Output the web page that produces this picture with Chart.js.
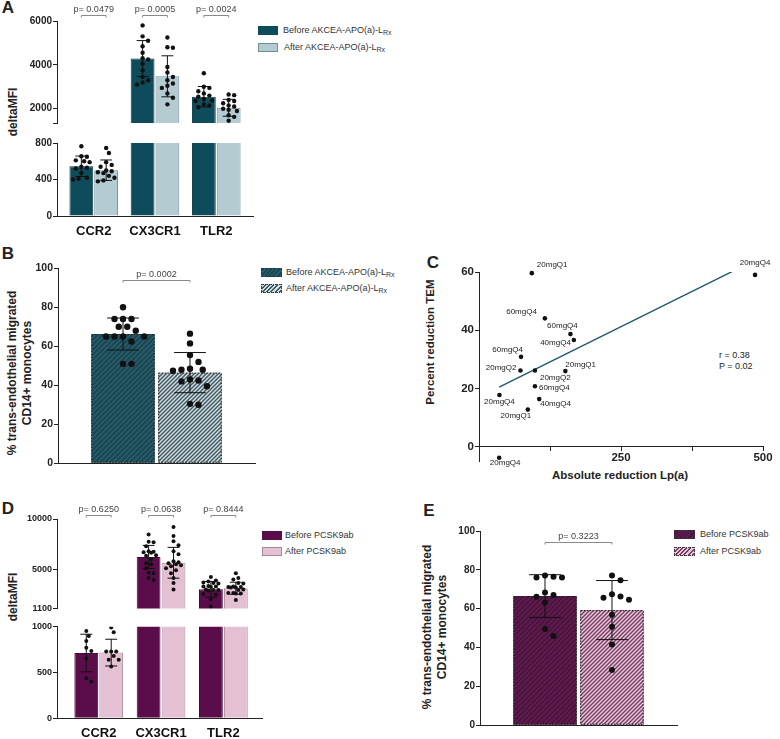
<!DOCTYPE html>
<html>
<head>
<meta charset="utf-8">
<script src="https://cdn.jsdelivr.net/npm/chart.js@4.4.1/dist/chart.umd.min.js"></script>
<style>
  body { margin: 0; background: #fff; }
  #fig { position: relative; width: 780px; height: 739px; overflow: hidden; color: #222;
         font-family: 'Liberation Sans', Arial, sans-serif; }
  #fig canvas { position: absolute; }
  .t { position: absolute; white-space: nowrap; transform: translate(-50%, -50%); }
  .v { transform: translate(-50%, -50%) rotate(-90deg); text-align: center; line-height: 15px; }
  .letter { font-weight: bold; font-size: 17px; }
  .ttl { font-weight: bold; font-size: 12px; }
  .leg { position: absolute; font-size: 9px; color: #333; white-space: nowrap; transform: translateY(-50%); }
  .leg sub { font-size: 7px; vertical-align: -2px; line-height: 0; }
  .sw { position: absolute; width: 20px; height: 9px; box-sizing: border-box; }
  .stat { position: absolute; font-size: 9px; transform: translateY(-50%); }
</style>
</head>
<body>
<div id="fig">
  <div class="t letter" style="left:8px;top:8px">A</div>
  <div class="t letter" style="left:8px;top:254px">B</div>
  <div class="t letter" style="left:433px;top:263px">C</div>
  <div class="t letter" style="left:8px;top:509px">D</div>
  <div class="t letter" style="left:429px;top:511px">E</div>

  <div class="t v ttl" style="left:13px;top:112px">deltaMFI</div>
  <div class="t v ttl" style="left:19.5px;top:373px">% trans-endothelial migrated<br>CD14+ monocytes</div>
  <div class="t v ttl" style="left:13px;top:597px">deltaMFI</div>
  <div class="t v ttl" style="left:435px;top:627px">% trans-endothelial migrated<br>CD14+ monocytes</div>
  <div class="t v ttl" style="left:430px;top:342px;font-size:11.5px">Percent reduction TEM</div>
  <div class="t ttl" style="left:620px;top:475px;font-size:11.5px">Absolute reduction Lp(a)</div>
  <div class="stat" style="left:719px;top:355px">r = 0.38</div>
  <div class="stat" style="left:719px;top:366px">P = 0.02</div>

  <div class="sw" style="left:258px;top:25.5px;background:#0e4c5c"></div>
  <div class="leg" style="left:283px;top:30px">Before AKCEA-APO(a)-L<sub>Rx</sub></div>
  <div class="sw" style="left:258px;top:42.5px;background:#b5cbd2;border:1px solid #6f8d96"></div>
  <div class="leg" style="left:284px;top:47px">After AKCEA-APO(a)-L<sub>Rx</sub></div>

  <div class="sw" style="left:261px;top:267.5px;width:21px;border:1px dotted #333;background:repeating-linear-gradient(135deg,#1c4854 0 2px,#2d6472 2px 3px)"></div>
  <div class="leg" style="left:286px;top:272px">Before AKCEA-APO(a)-L<sub>Rx</sub></div>
  <div class="sw" style="left:261px;top:283.5px;width:21px;border:1px dotted #333;background:repeating-linear-gradient(135deg,#d5dcde 0 1.6px,#3d5962 1.6px 3px)"></div>
  <div class="leg" style="left:286px;top:288px">After AKCEA-APO(a)-L<sub>Rx</sub></div>

  <div class="sw" style="left:262px;top:530.5px;background:#5b0c4b"></div>
  <div class="leg" style="left:285px;top:535px">Before PCSK9ab</div>
  <div class="sw" style="left:262px;top:546.5px;background:#e3c1d2;border:1px solid #a88898"></div>
  <div class="leg" style="left:285px;top:551px">After PCSK9ab</div>

  <div class="sw" style="left:674px;top:529.5px;width:21px;border:1px dotted #333;background:repeating-linear-gradient(135deg,#5b1b4c 0 2px,#46103a 2px 3px)"></div>
  <div class="leg" style="left:700px;top:534px">Before PCSK9ab</div>
  <div class="sw" style="left:674px;top:546.5px;width:21px;border:1px dotted #333;background:repeating-linear-gradient(135deg,#e6cad8 0 1.6px,#7a3b66 1.6px 3px)"></div>
  <div class="leg" style="left:700px;top:551px">After PCSK9ab</div>
</div>

<script>
// ---------- data ----------
const receptors = ['CCR2', 'CX3CR1', 'TLR2'];

// A: monocyte receptor deltaMFI, before / after AKCEA-APO(a)-LRx
const aBeforeMean = [545, 4287, 2548];
const aAfterMean = [502, 3478, 2043];
const aBeforeSD = [112, 820, 465];
const aAfterSD = [112, 935, 385];
const aBeforeDots = [
  [765, 655, 650, 610, 600, 590, 540, 530, 520, 470, 420, 410, 400],
  [5800, 5300, 5100, 4850, 4550, 4300, 4250, 4050, 3750, 3450, 3300, 3200, 3100],
  [3620, 3000, 2950, 2800, 2700, 2600, 2550, 2450, 2380, 2350, 2200, 2150, 2070]
];
const aAfterDots = [
  [745, 690, 590, 560, 540, 500, 490, 480, 470, 440, 420, 390, 380],
  [5250, 4800, 4780, 3900, 3650, 3450, 3300, 3150, 3050, 2950, 2700, 2500, 2200],
  [2650, 2620, 2400, 2350, 2250, 2150, 2100, 2000, 1950, 1900, 1700, 1630, 1450]
];
const aPvals = ['p= 0.0479', 'p= 0.0005', 'p= 0.0024'];

// B: % trans-endothelial migration, AKCEA-APO(a)-LRx
const bMean = [66.3, 46.5];
const bSD = [8.2, 10.3];
const bBeforeDots = [80, 74, 74, 74, 70, 70, 68, 65, 65, 65, 65, 62.5, 51, 51];
const bAfterDots = [66.5, 61.5, 55.5, 52, 48.5, 48, 48, 47.5, 43, 42.5, 42, 39.5, 30.5, 30];
const bPval = 'p= 0.0002';

// C: absolute Lp(a) reduction vs percent TEM reduction
const cLpaReduction = [93, 486, 116, 161, 167, 74, 73, 98.5, 152, 98.5, 36, 106, 86, 35.5];
const cTemReduction = [59.6, 59, 44.1, 38.7, 36.7, 30.9, 26.2, 26.2, 26, 20.8, 17.8, 16.4, 12.8, -3.7];
const cDoseGroup = ['20mgQ1', '20mgQ4', '60mgQ4', '60mgQ4', '40mgQ4', '60mgQ4', '20mgQ2',
                    '20mgQ2', '20mgQ1', '60mgQ4', '20mgQ4', '40mgQ4', '20mgQ1', '20mgQ4'];
const cXTicks = [0, 125, 250, 375, 500];
const cXLabels = [250, 500];
const cYTicks = [0, 20, 40, 60];

// D: monocyte receptor deltaMFI, before / after PCSK9ab
const dBeforeMean = [713, 6226, 3020];
const dAfterMean = [717, 5650, 3116];
const dBeforeSD = [205, 1150, 780];
const dAfterSD = [146, 1530, 600];
const dBeforeDots = [
  [953, 899, 844, 771, 735, 655, 437, 400],
  [8450, 7750, 7700, 7300, 6800, 6750, 6700, 6650, 6400, 6350, 6000, 5600, 5500, 5100, 4650, 4600, 4150, 3950],
  [4250, 3900, 3800, 3700, 3650, 3600, 3350, 3300, 3300, 3250, 3000, 2950, 2950, 2900, 2550, 2500, 2050, 1300]
];
const dAfterDots = [
  [990, 940, 730, 730, 730, 680, 640, 640, 565],
  [9200, 8300, 7800, 7400, 6800, 6500, 5800, 5700, 5600, 5500, 5400, 5300, 5100, 4900, 4600, 4150, 3650, 3000],
  [4600, 4150, 4000, 3650, 3600, 3300, 3250, 3250, 3200, 3200, 3000, 2950, 2650, 2650, 2600, 2600, 1950]
];
const dPvals = ['p= 0.6250', 'p= 0.0638', 'p= 0.8444'];

// E: % trans-endothelial migration, PCSK9ab
const eMean = [66.5, 59.3];
const eSD = [11, 15.2];
const eBeforeDots = [77.1, 76.5, 76.1, 76.1, 68.4, 67, 66.1, 63.2, 49.5, 45.9];
const eAfterDots = [77.1, 74.7, 67.4, 66.3, 65.6, 64.6, 56.9, 50.7, 41.6, 28.4];
const ePval = 'p= 0.3223';

// ---------- helpers ----------
const FONT = "'Liberation Sans', Arial, sans-serif";
Chart.defaults.font.family = FONT;
Chart.defaults.color = '#222';

function canvasAt(left, top, w, h) {
  const c = document.createElement('canvas');
  c.width = w; c.height = h;
  c.style.left = left + 'px'; c.style.top = top + 'px';
  c.style.width = w + 'px'; c.style.height = h + 'px';
  document.getElementById('fig').appendChild(c);
  return c;
}

function hatch(bg, fg, size, lw) {
  const c = document.createElement('canvas');
  c.width = c.height = size;
  const g = c.getContext('2d');
  g.fillStyle = bg; g.fillRect(0, 0, size, size);
  g.strokeStyle = fg; g.lineWidth = lw;
  g.beginPath();
  g.moveTo(-1, size + 1); g.lineTo(size + 1, -1);
  g.moveTo(-size / 2 - 1, size / 2 + 1); g.lineTo(size / 2 + 1, -size / 2 - 1);
  g.moveTo(size / 2 - 1, size * 1.5 + 1); g.lineTo(size * 1.5 + 1, size / 2 - 1);
  g.stroke();
  return g.createPattern(c, 'repeat');
}

// beeswarm: spread near-equal values sideways (kept inside the bar) so dots don't overlap
function swarm(vals, cx, xPx, yPx, minD, maxPx) {
  const placed = [];
  const order = vals.map((_, i) => i).sort((p, q) => vals[q] - vals[p]);
  const step = minD / 2;
  for (const i of order) {
    const py = vals[i] * yPx;
    let best = 0, bestGap = -1;
    for (let n = 0; n < 60; n++) {
      const px = Math.ceil(n / 2) * (n % 2 ? 1 : -1) * step;
      if (Math.abs(px) > maxPx) continue;
      const gap = placed.reduce((g, p) => Math.min(g, Math.hypot(p.px - px, p.py - py)), Infinity);
      if (gap >= minD) { best = px; bestGap = gap; break; }
      if (gap > bestGap) { best = px; bestGap = gap; }
    }
    placed.push({ px: best, py, x: cx + best / xPx, y: vals[i] });
  }
  return placed.map(p => ({ x: p.x, y: p.y }));
}

function groupDots(dots, side, catPct, xPx, yPxs, minD, maxPx) {
  return dots.flatMap((vals, j) => swarm(vals, j + side * catPct / 4, xPx, yPxs[j], minD, maxPx));
}

function linFit(xs, ys) {
  const n = xs.length;
  const mx = xs.reduce((s, v) => s + v, 0) / n, my = ys.reduce((s, v) => s + v, 0) / n;
  let sxy = 0, sxx = 0;
  xs.forEach((x, i) => { sxy += (x - mx) * (ys[i] - my); sxx += (x - mx) ** 2; });
  const b = sxy / sxx;
  return { a: my - b * mx, b };
}

function yAxis(min, max, ticks, labels, width, size) {
  return {
    type: 'linear', min, max,
    afterBuildTicks: s => { s.ticks = ticks.map(v => ({ value: v })); },
    afterFit: s => { s.width = width; },
    ticks: { autoSkip: false, padding: 1, font: { size, weight: 'bold' }, color: '#222',
             callback: v => labels.includes(v) ? String(v) : '' },
    grid: { drawOnChartArea: false, tickLength: 4, color: '#222' },
    border: { color: '#222' }
  };
}

function xAxis(min, max, ticks, extra) {
  return Object.assign({
    type: 'linear', min, max, offset: false,
    afterBuildTicks: s => { s.ticks = ticks.map(v => ({ value: v })); },
    grid: { display: false, drawTicks: false },
    border: { color: '#222' },
    ticks: { display: false }
  }, extra);
}

function barSet(label, means, sds, bg, edge, extra) {
  return Object.assign({
    type: 'bar', label, order: 2, clip: 0,
    data: means.map((m, j) => ({ x: j, y: m })),
    sd: sds, backgroundColor: bg, borderColor: edge, borderWidth: 1
  }, extra);
}

function dotSet(points, r) {
  return { type: 'scatter', order: 1, clip: 0, data: points, pointRadius: r,
           pointBackgroundColor: '#111', pointBorderWidth: 0, pointHoverRadius: r };
}

// error bars, dotted bar outlines and p-value brackets
const decor = {
  id: 'decor',
  afterDatasetDraw(chart, args) {
    const ds = chart.data.datasets[args.index];
    if (!ds.sd && !ds.dotted) return;
    const ctx = chart.ctx, ys = chart.scales.y, a = chart.chartArea;
    ctx.save();
    ctx.beginPath(); ctx.rect(a.left, a.top, a.right - a.left, a.bottom - a.top); ctx.clip();
    args.meta.data.forEach((bar, j) => {
      const half = bar.width / 2;
      if (ds.dotted) {
        ctx.setLineDash([1.5, 1.5]); ctx.strokeStyle = '#222'; ctx.lineWidth = 1;
        ctx.strokeRect(bar.x - half + 0.5, bar.y + 0.5, bar.width - 1, bar.base - bar.y - 1);
        ctx.setLineDash([]);
      }
      if (ds.sd) {
        const m = ds.data[j].y, s = ds.sd[j];
        const t = ys.getPixelForValue(m + s), b = ys.getPixelForValue(m - s);
        ctx.strokeStyle = '#111'; ctx.lineWidth = 1;
        ctx.beginPath();
        ctx.moveTo(bar.x, t); ctx.lineTo(bar.x, b);
        ctx.moveTo(bar.x - half / 2, t); ctx.lineTo(bar.x + half / 2, t);
        ctx.moveTo(bar.x - half / 2, b); ctx.lineTo(bar.x + half / 2, b);
        ctx.stroke();
      }
    });
    ctx.restore();
  },
  afterDraw(chart, args, opts) {
    const ctx = chart.ctx, ys = chart.scales.y;
    (opts.pvals || []).forEach(p => {
      const x0 = chart.getDatasetMeta(0).data[p.j].x, x1 = chart.getDatasetMeta(1).data[p.j].x;
      const py = Math.round(ys.getPixelForValue(p.y)) + 0.5;
      ctx.save();
      ctx.strokeStyle = '#8a8a8a'; ctx.lineWidth = 1;
      ctx.beginPath();
      ctx.moveTo(x0, py + 2); ctx.lineTo(x0, py); ctx.lineTo(x1, py); ctx.lineTo(x1, py + 2);
      ctx.stroke();
      ctx.fillStyle = '#444'; ctx.font = '9px ' + FONT;
      ctx.textAlign = 'center'; ctx.textBaseline = 'bottom';
      ctx.fillText(p.text, (x0 + x1) / 2, py - 1.5);
      ctx.restore();
    });
  }
};

const quiet = { legend: { display: false }, tooltip: { enabled: false } };

// bar panel with a broken y axis: two stacked charts sharing the x range
function brokenPanel(o) {
  const sets = (lo, hi) => [
    barSet('Before', o.beforeMean, o.beforeSD, o.fill[0], o.edge[0], o.bar),
    barSet('After', o.afterMean, o.afterSD, o.fill[1], o.edge[1], o.bar),
    dotSet(o.beforePts.filter(p => p.y >= lo && p.y <= hi), o.r),
    dotSet(o.afterPts.filter(p => p.y >= lo && p.y <= hi), o.r)
  ];
  new Chart(canvasAt(0, o.t.y, o.w, o.t.h), {
    type: 'bar',
    data: { datasets: sets(o.t.min, Infinity) },
    options: {
      responsive: false, animation: false, events: [],
      layout: { padding: { top: o.t.padTop, right: o.padRight, bottom: o.t.padBottom, left: 0 } },
      scales: {
        x: xAxis(o.xMin, o.xMax, [0, 1, 2], { display: false }),
        y: yAxis(o.t.min, o.t.max, o.t.ticks, o.t.labels, 57, o.tickSize)
      },
      plugins: Object.assign({ decor: { pvals: o.pvals } }, quiet)
    },
    plugins: [decor]
  });
  new Chart(canvasAt(0, o.b.y, o.w, o.b.h), {
    type: 'bar',
    data: { datasets: sets(-Infinity, o.b.max) },
    options: {
      responsive: false, animation: false, events: [],
      layout: { padding: { top: o.b.padTop, right: o.padRight, bottom: 0, left: 0 } },
      scales: {
        x: xAxis(o.xMin, o.xMax, [0, 1, 2], {
          afterFit: s => { s.height = o.b.xHeight; },
          ticks: { display: true, autoSkip: false, maxRotation: 0, padding: o.b.labelPad,
                   font: { size: 13, weight: 'bold' }, color: '#111', callback: v => receptors[v] }
        }),
        y: yAxis(o.b.min, o.b.max, o.b.ticks, o.b.ticks, 57, o.tickSize)
      },
      plugins: Object.assign({ decor: {} }, quiet)
    },
    plugins: [decor]
  });
}

// two hatched bars with dots
function pairPanel(o) {
  const off = o.catPct / 2;
  new Chart(canvasAt(o.left, o.top, o.w, o.h), {
    type: 'bar',
    data: { datasets: [
      barSet('Before', [o.mean[0]], [o.sd[0]], o.fill[0], 'transparent',
             { borderWidth: 0, dotted: true, categoryPercentage: o.catPct, barPercentage: 0.948 }),
      barSet('After', [o.mean[1]], [o.sd[1]], o.fill[1], 'transparent',
             { borderWidth: 0, dotted: true, categoryPercentage: o.catPct, barPercentage: 0.948 }),
      dotSet(swarm(o.before, -off, o.xPx, o.yPx, o.minD, 26), o.r),
      dotSet(swarm(o.after, off, o.xPx, o.yPx, o.minD, 26), o.r)
    ] },
    options: {
      responsive: false, animation: false, events: [],
      layout: { padding: { top: o.padTop, right: o.padRight, bottom: 0, left: 0 } },
      scales: {
        x: xAxis(-1, 1, [0], { afterFit: s => { s.height = o.xHeight; } }),
        y: yAxis(0, 100, [0, 20, 40, 60, 80, 100], [0, 20, 40, 60, 80, 100], o.yWidth, o.tickSize)
      },
      plugins: Object.assign({ decor: { pvals: [{ j: 0, text: o.pval, y: o.pvalY }] } }, quiet)
    },
    plugins: [decor]
  });
}

// ---------- A ----------
const aCat = 0.81;
brokenPanel({
  w: 262, padRight: 9, xMin: -0.6, xMax: 2.6, tickSize: 10, r: 2.2,
  beforeMean: aBeforeMean, afterMean: aAfterMean, beforeSD: aBeforeSD, afterSD: aAfterSD,
  fill: ['#0e4c5c', '#b5cbd2'], edge: ['#0a3a46', '#6f8d96'],
  bar: { categoryPercentage: aCat, barPercentage: 0.96 },
  beforePts: groupDots(aBeforeDots, -1, aCat, 61, [0.0912, 0.023, 0.023], 5.5, 9.5),
  afterPts: groupDots(aAfterDots, 1, aCat, 61, [0.0912, 0.023, 0.023], 5.5, 9.5),
  pvals: aPvals.map((text, j) => ({ j, text, y: 6280 })),
  t: { y: 0, h: 130, padTop: 21, padBottom: 2, min: 1350, max: 6000,
       ticks: [1350, 2000, 4000, 6000], labels: [2000, 4000, 6000] },
  b: { y: 130, h: 110, padTop: 13, xHeight: 24, labelPad: 8, min: 0, max: 800, ticks: [0, 400, 800] }
});

// ---------- B ----------
pairPanel({
  left: 0, top: 240, w: 262, h: 240, padTop: 28.3, padRight: 7, xHeight: 16.7, yWidth: 58,
  tickSize: 10.5, catPct: 0.68, xPx: 98.5, yPx: 1.95, minD: 8.5, r: 3.2,
  mean: bMean, sd: bSD, before: bBeforeDots, after: bAfterDots, pval: bPval, pvalY: 94,
  fill: [hatch('#1c4854', '#2d6472', 5, 1.2), hatch('#d5dcde', '#3d5962', 4, 1.4)]
});

// ---------- C ----------
const fit = linFit(cLpaReduction, cTemReduction);
const fitX = [Math.min(...cLpaReduction), Math.max(...cLpaReduction)];
// label offset from its point: [dx, dy, align]
const cLabelPlace = [[5, -8, 'left'], [0, -12, 'center'], [-8, -7, 'right'], [-8, -8, 'center'],
  [-3, 3, 'right'], [2, -7, 'right'], [-4, -3, 'right'], [5, 7, 'left'], [0, -6, 'left'],
  [4, 2, 'left'], [0, 7, 'center'], [1, 5, 'left'], [-12, 6, 'center'], [6, 5, 'center']];
const pointLabels = {
  id: 'pointLabels',
  afterDatasetsDraw(chart) {
    const ctx = chart.ctx;
    ctx.save();
    ctx.font = '8px ' + FONT; ctx.fillStyle = '#222'; ctx.textBaseline = 'middle';
    chart.getDatasetMeta(0).data.forEach((pt, i) => {
      const [dx, dy, align] = cLabelPlace[i];
      ctx.textAlign = align;
      ctx.fillText(cDoseGroup[i], pt.x + dx, pt.y + dy);
    });
    ctx.restore();
  }
};
new Chart(canvasAt(400, 240, 380, 245), {
  type: 'scatter',
  data: { datasets: [
    { type: 'scatter', data: cLpaReduction.map((x, i) => ({ x, y: cTemReduction[i] })),
      pointRadius: 2.3, pointBackgroundColor: '#111', pointBorderWidth: 0, clip: 6 },
    { type: 'line', data: fitX.map(x => ({ x, y: fit.a + fit.b * x })),
      borderColor: '#1f5a66', borderWidth: 1.4, pointRadius: 0, clip: 0 }
  ] },
  options: {
    responsive: false, animation: false, events: [],
    layout: { padding: { top: 32, right: 17, bottom: 23.5, left: 0 } },
    scales: {
      x: {
        type: 'linear', min: 0, max: 500, position: { y: 0 },
        afterBuildTicks: s => { s.ticks = cXTicks.map(v => ({ value: v })); },
        ticks: { autoSkip: false, maxRotation: 0, padding: 0, font: { size: 11.5, weight: 'bold' },
                 color: '#222', callback: v => cXLabels.includes(v) ? String(v) : '' },
        grid: { drawOnChartArea: false, tickLength: 4, color: '#222' },
        border: { color: '#222' }
      },
      y: yAxis(-5, 60, cYTicks, cYTicks, 79, 11.5)
    },
    plugins: quiet
  },
  plugins: [pointLabels]
});

// ---------- D ----------
const dCat = 0.8;
brokenPanel({
  w: 265, padRight: 3, xMin: -0.67, xMax: 2.62, tickSize: 9, r: 2,
  beforeMean: dBeforeMean, afterMean: dAfterMean, beforeSD: dBeforeSD, afterSD: dAfterSD,
  fill: ['#5b0c4b', '#e3c1d2'], edge: ['#4a063c', '#a88898'],
  bar: { categoryPercentage: dCat, barPercentage: 0.955 },
  beforePts: groupDots(dBeforeDots, -1, dCat, 62.3, [0.0916, 0.01042, 0.01042], 5, 9.8),
  afterPts: groupDots(dAfterDots, 1, dCat, 62.3, [0.0916, 0.01042, 0.01042], 5, 9.8),
  pvals: dPvals.map((text, j) => ({ j, text, y: 10384 })),
  t: { y: 490, h: 125, padTop: 29, padBottom: 3.3, min: 1100, max: 10000,
       ticks: [1100, 5000, 10000], labels: [1100, 5000, 10000] },
  b: { y: 615, h: 124, padTop: 11.7, xHeight: 20.7, labelPad: 7, min: 0, max: 1000, ticks: [0, 500, 1000] }
});

// ---------- E ----------
pairPanel({
  left: 430, top: 490, w: 250, h: 249, padTop: 41, padRight: 3, xHeight: 13.7, yWidth: 50,
  tickSize: 10, catPct: 0.68, xPx: 98.5, yPx: 1.94, minD: 8.5, r: 3,
  mean: eMean, sd: eSD, before: eBeforeDots, after: eAfterDots, pval: ePval, pvalY: 94.5,
  fill: [hatch('#5b1b4c', '#46103a', 5, 1.2), hatch('#e6cad8', '#7a3b66', 4, 1.4)]
});
</script>
</body>
</html>
